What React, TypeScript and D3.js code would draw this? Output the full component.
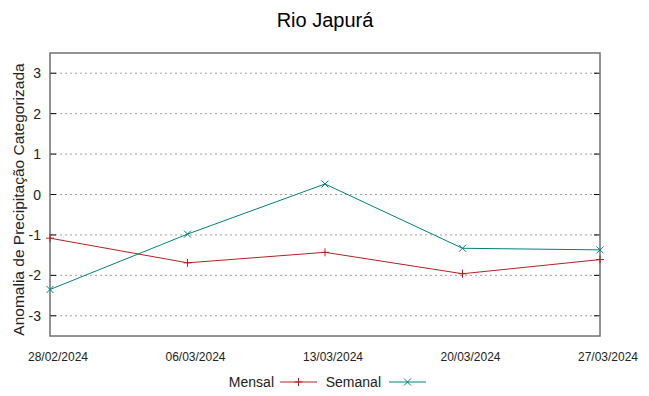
import React from "react";
import * as d3 from "d3";

const dates = ["28/02/2024", "06/03/2024", "13/03/2024", "20/03/2024", "27/03/2024"];
const mensal = [-1.08, -1.69, -1.43, -1.96, -1.61];
const semanal = [-2.35, -0.98, 0.26, -1.33, -1.37];
const yTicks = [-3, -2, -1, 0, 1, 2, 3];

const W = 649, H = 396;
const L = 50, R = 600, T = 53, B = 336;

export default function App() {
  const x = d3.scaleLinear().domain([0, dates.length - 1]).range([L, R]);
  const y = d3.scaleLinear().domain([-3.5, 3.5]).range([B, T]);
  const line = d3.line<number>().x((_, i) => x(i)).y((d) => y(d));
  const font = "Liberation Sans, Arial, sans-serif";
  const red = "#b22222";
  const teal = "#008080";
  const plus = (cx: number, cy: number, c: string, k: string) => (
    <g key={k} stroke={c} strokeWidth={1}>
      <line x1={cx - 4} x2={cx + 4} y1={cy} y2={cy} />
      <line x1={cx} x2={cx} y1={cy - 4} y2={cy + 4} />
    </g>
  );
  const cross = (cx: number, cy: number, c: string, k: string) => (
    <g key={k} stroke={c} strokeWidth={1}>
      <line x1={cx - 3.5} x2={cx + 3.5} y1={cy - 3.5} y2={cy + 3.5} />
      <line x1={cx - 3.5} x2={cx + 3.5} y1={cy + 3.5} y2={cy - 3.5} />
    </g>
  );
  return (
    <svg width={W} height={H} style={{ position: "absolute", left: 0, top: 0, background: "#fff" }} fontFamily={font}>
      <text x={325} y={27} textAnchor="middle" fontSize={20} fill="#000">Rio Japurá</text>
      {yTicks.map((t) => (
        <g key={t}>
          <line x1={L} x2={R} y1={y(t)} y2={y(t)} stroke="#a0a0a0" strokeDasharray="2,3" strokeWidth={1} />
          <line x1={L} x2={L + 6} y1={y(t)} y2={y(t)} stroke="#000" strokeWidth={1} />
          <line x1={R - 6} x2={R} y1={y(t)} y2={y(t)} stroke="#000" strokeWidth={1} />
          <text x={41} y={y(t) + 5} textAnchor="end" fontSize={14} fill="#222">{t}</text>
        </g>
      ))}
      {dates.map((d, i) => (
        <text key={d} x={x(i) + 8} y={361} textAnchor="middle" fontSize={12} fill="#222">{d}</text>
      ))}
      <rect x={L} y={T} width={R - L} height={B - T} fill="none" stroke="#707070" strokeWidth={1.5} />
      <text transform={`translate(24,${(T + B) / 2 + 5}) rotate(-90)`} textAnchor="middle" fontSize={15.5} fill="#222">Anomalia de Precipitação Categorizada</text>
      <path d={line(mensal) || ""} fill="none" stroke={red} strokeWidth={1} />
      <path d={line(semanal) || ""} fill="none" stroke={teal} strokeWidth={1} />
      {mensal.map((v, i) => plus(x(i), y(v), red, "m" + i))}
      {semanal.map((v, i) => cross(x(i), y(v), teal, "s" + i))}
      <text x={274} y={387} textAnchor="end" fontSize={14} fill="#222">Mensal</text>
      <line x1={280} x2={317} y1={382} y2={382} stroke={red} strokeWidth={1} />
      {plus(298.5, 382, red, "lm")}
      <text x={381} y={387} textAnchor="end" fontSize={14} fill="#222">Semanal</text>
      <line x1={389} x2={426} y1={382} y2={382} stroke={teal} strokeWidth={1} />
      {cross(407.5, 382, teal, "ls")}
    </svg>
  );
}
